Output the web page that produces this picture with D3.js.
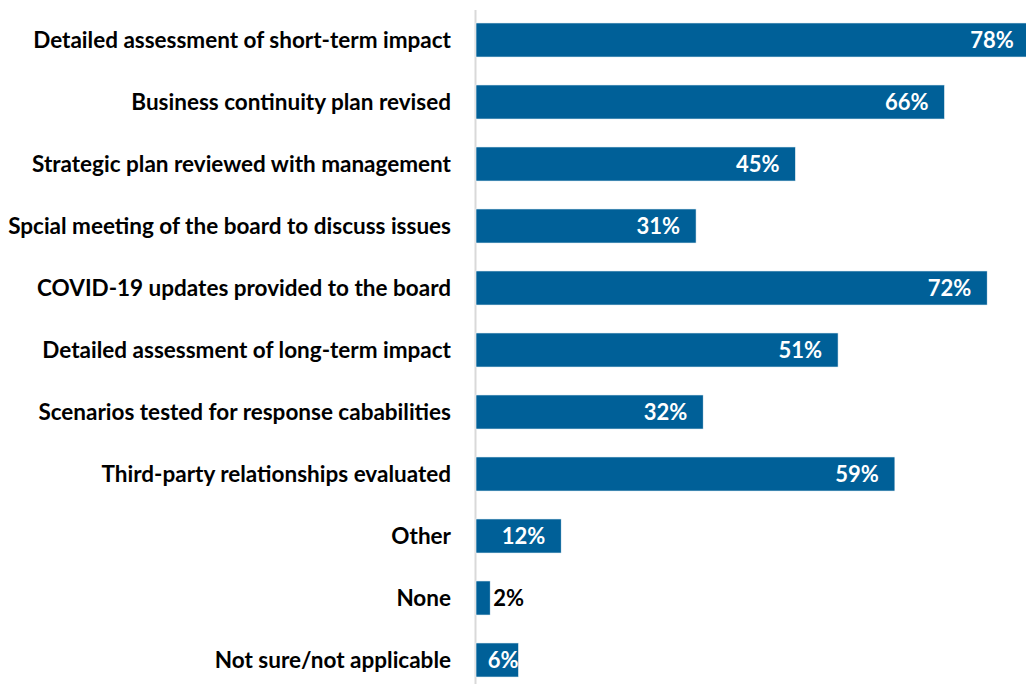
<!DOCTYPE html>
<html><head><meta charset="utf-8">
<script src="https://cdn.jsdelivr.net/npm/d3@7"></script>
<style>html,body{margin:0;padding:0;background:#fff;overflow:hidden}</style>
</head><body>
<svg id="c" width="1026" height="684"></svg>
<script>
const categories = [
  "Detailed assessment of short-term impact",
  "Business continuity plan revised",
  "Strategic plan reviewed with management",
  "Spcial meeting of the board to discuss issues",
  "COVID-19 updates provided to the board",
  "Detailed assessment of long-term impact",
  "Scenarios tested for response cababilities",
  "Third-party relationships evaluated",
  "Other",
  "None",
  "Not sure/not applicable"
];
const values = [78, 66, 45, 31, 72, 51, 32, 59, 12, 2, 6];

const svg = d3.select("#c");
const font = "Lato, 'Open Sans', sans-serif";
const x = d3.scaleLinear().domain([0, 100]).range([476, 1186]);
const y = d3.scaleBand().domain(categories).range([9, 691]).paddingInner(0.45).paddingOuter(0.225);

svg.append("line").attr("x1", 475.5).attr("x2", 475.5).attr("y1", 10).attr("y2", 684)
  .attr("stroke", "#d9d9d9").attr("stroke-width", 2);

const data = categories.map((c, i) => ({c, v: values[i]}));

svg.selectAll("rect.bar").data(data).join("rect").attr("class", "bar")
  .attr("x", x(0)).attr("y", d => y(d.c))
  .attr("width", d => x(d.v) - x(0)).attr("height", y.bandwidth())
  .attr("fill", "#006098").attr("stroke", "#ffffff").attr("stroke-width", 0.6);

svg.selectAll("text.cat").data(data).join("text").attr("class", "cat")
  .attr("x", 451).attr("y", d => y(d.c) + y.bandwidth() / 2)
  .attr("dy", "0.35em").attr("text-anchor", "end")
  .attr("font-family", font).attr("font-weight", "bold").attr("font-size", 22.5)
  .attr("fill", "#000").text(d => d.c);

svg.selectAll("text.val").data(data).join("text").attr("class", "val")
  .attr("y", d => y(d.c) + y.bandwidth() / 2)
  .attr("dy", "0.35em").attr("text-anchor", d => d.v < 4 ? "start" : "end")
  .attr("font-family", font).attr("font-weight", "bold").attr("font-size", 22)
  .attr("fill", d => d.v < 4 ? "#000" : "#fff").text(d => d.v + "%")
  .attr("x", function(d) {
    if (d.v < 4) return x(d.v) + 3;
    const w = this.getComputedTextLength();
    return Math.min(x(d.v), Math.max(x(d.v) - 16, x(0) + w + 15));
  });
</script>
</body></html>
